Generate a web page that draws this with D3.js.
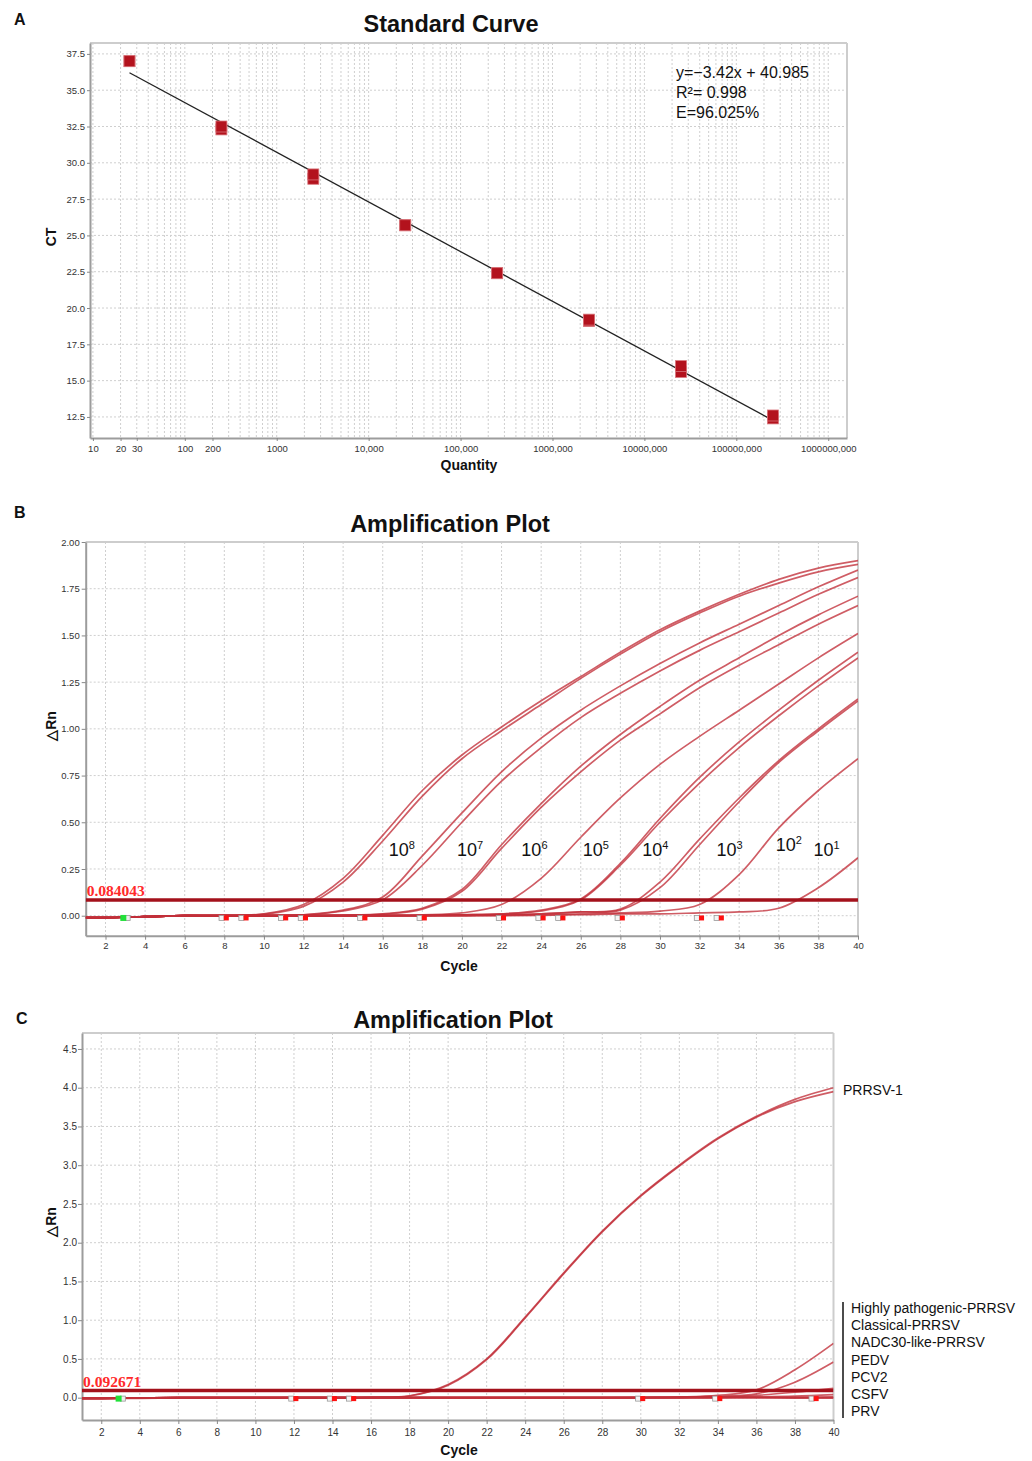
<!DOCTYPE html>
<html>
<head>
<meta charset="UTF-8">
<title>Standard curve and amplification plots</title>
<script src="https://d3js.org/d3.v7.min.js"></script>
<style>
  body { margin: 0; background: #fff; }
  svg { display: block; font-family: "Liberation Sans", Arial, Helvetica, sans-serif; }
  .grid line { stroke: #cfcfcf; stroke-width: 1; stroke-dasharray: 2,2; }
  .frame { stroke: #cdcdcd; stroke-width: 2; fill: none; }
  .curve { fill: none; stroke: #c22f3a; stroke-width: 1.7; stroke-opacity: 0.78; }
  .thresh { stroke: #a3111b; stroke-width: 3.5; }
  .ttl { font-weight: bold; font-size: 23.5px; fill: #111; text-anchor: middle; }
  .lbl { font-weight: bold; font-size: 14px; fill: #111; text-anchor: middle; }
  .letter { font-weight: bold; font-size: 16px; fill: #111; }
</style>
</head>
<body>
<svg id="fig" width="1032" height="1461"></svg>
<script>
// ===== DATA: panel A, standard curve =====
var qty = [25, 250, 2500, 25000, 250000, 2500000, 25000000, 250000000];
var ctRep1 = [37.0, 32.3, 28.9, 25.7, 22.4, 19.1, 15.6, 12.4];
var ctRep2 = [37.0, 32.5, 29.2, 25.7, 22.4, 19.2, 16.0, 12.6];
var qtyTicks = [10, 20, 30, 100, 200, 1000, 1e4, 1e5, 1e6, 1e7, 1e8, 1e9];
var qtyTickLabels = ["10", "20", "30", "100", "200", "1000", "10,000", "100,000",
                     "1000,000", "10000,000", "100000,000", "1000000,000"];
var ctTicks = [12.5, 15, 17.5, 20, 22.5, 25, 27.5, 30, 32.5, 35, 37.5];
var fitSlope = -3.42, fitIntercept = 40.985;
var fitText = ["y=\u22123.42x + 40.985", "R\u00b2= 0.998", "E=96.025%"];

// ===== DATA: amplification curves (delta Rn at these cycles) =====
var cycles = [1, 2, 4, 6, 8, 10, 12, 14, 16, 18, 20, 22, 24, 26, 28, 30, 32, 34, 36, 38, 40];
var cycleTicks = [2, 4, 6, 8, 10, 12, 14, 16, 18, 20, 22, 24, 26, 28, 30, 32, 34, 36, 38, 40];

// panel B, tenfold dilutions
var rn1e8a = [-0.01,-0.01,-0.005,0,0,0.01,0.06,0.20,0.43,0.67,0.86,1.01,1.15,1.28,1.41,1.53,1.63,1.72,1.80,1.86,1.90];
var rn1e8b = [-0.01,-0.01,-0.005,0,0,0.008,0.05,0.18,0.40,0.64,0.84,0.99,1.13,1.27,1.40,1.52,1.62,1.71,1.78,1.84,1.88];
var rn1e7a = [-0.01,-0.01,-0.005,0,0,0,0.005,0.03,0.10,0.32,0.55,0.77,0.95,1.10,1.23,1.35,1.46,1.56,1.66,1.76,1.85];
var rn1e7b = [-0.01,-0.01,-0.005,0,0,0,0.004,0.025,0.085,0.27,0.50,0.72,0.90,1.06,1.19,1.31,1.42,1.52,1.62,1.72,1.81];
var rn1e6a = [-0.01,-0.01,-0.005,0,0,0,0,0.002,0.01,0.04,0.14,0.38,0.60,0.80,0.97,1.12,1.26,1.38,1.50,1.61,1.71];
var rn1e6b = [-0.01,-0.01,-0.005,0,0,0,0,0.002,0.008,0.035,0.13,0.36,0.58,0.77,0.94,1.08,1.22,1.34,1.45,1.56,1.66];
var rn1e5  = [-0.01,-0.01,-0.005,0,0,0,0,0,0.002,0.005,0.015,0.06,0.20,0.42,0.63,0.81,0.96,1.10,1.24,1.38,1.51];
var rn1e4a = [-0.01,-0.01,-0.005,0,0,0,0,0,0,0.002,0.005,0.01,0.03,0.09,0.28,0.52,0.74,0.93,1.10,1.26,1.41];
var rn1e4b = [-0.01,-0.01,-0.005,0,0,0,0,0,0,0.002,0.005,0.01,0.025,0.085,0.27,0.50,0.71,0.90,1.07,1.23,1.38];
var rn1e3a = [-0.01,-0.01,-0.005,0,0,0,0,0,0,0,0.002,0.005,0.01,0.02,0.035,0.18,0.41,0.63,0.83,1.00,1.16];
var rn1e3b = [-0.01,-0.01,-0.005,0,0,0,0,0,0,0,0.002,0.005,0.01,0.02,0.03,0.15,0.38,0.61,0.82,0.99,1.15];
var rn1e2  = [-0.01,-0.01,-0.005,0,0,0,0,0,0,0,0,0.002,0.005,0.01,0.015,0.025,0.06,0.22,0.47,0.67,0.84];
var rn1e1  = [-0.01,-0.01,-0.005,0,0,0,0,0,0,0,0,0,0.002,0.005,0.01,0.01,0.015,0.02,0.04,0.15,0.31];
var dilutionExp = ["8", "7", "6", "5", "4", "3", "2", "1"];
var dilutionLabelCycle = [16.3, 19.75, 23.0, 26.1, 29.1, 32.85, 35.85, 37.75];
var dilutionLabelRn = [0.32, 0.32, 0.32, 0.32, 0.32, 0.32, 0.345, 0.32];
var thresholdB = 0.084043;
var baselineEndB = [8.1, 9.1, 11.1, 12.1, 15.1, 18.1, 22.1, 24.1, 25.1, 28.1, 32.1, 33.1];

// panel C, specificity
var rnPRRSV1a = [-0.01,-0.01,-0.005,0,0,0,0,0,0.005,0.025,0.17,0.50,1.04,1.61,2.15,2.61,3.00,3.35,3.63,3.85,4.00];
var rnPRRSV1b = [-0.01,-0.01,-0.005,0,0,0,0,0,0.004,0.022,0.16,0.49,1.03,1.60,2.14,2.60,2.99,3.34,3.62,3.82,3.95];
var rnHP      = [-0.01,-0.01,-0.005,0,0,0,0,0,0,0,0,0,0,0,0,0.005,0.01,0.03,0.10,0.36,0.70];
var rnClass   = [-0.01,-0.01,-0.005,0,0,0,0,0,0,0,0,0,0,0,0,0,0.005,0.02,0.05,0.20,0.46];
var rnNADC30  = [-0.01,-0.01,-0.005,0,0,0,0,0,0,0,0,0,0,0,0,0,0.005,0.01,0.03,0.07,0.12];
var rnPEDV    = [-0.01,-0.01,-0.005,0,0,0,0,0,0,0,0,0,0,0,0,0,0,0.005,0.01,0.02,0.04];
var rnPCV2    = [-0.01,-0.01,-0.005,0,0,0,0,0,0,0,0,0,0,0,0,0,0,0,0.005,0.005,0.01];
var rnCSFV    = [-0.01,-0.01,-0.005,0,0,0,0,0,0,0,0,0,0,0,0,0,0,0,0,0,0];
var rnPRV     = [-0.01,-0.01,-0.01,-0.005,-0.005,-0.005,0,0,0,0,0,0,0,0,0,0,0,0,0,-0.005,-0.005];
var pathogenNames = ["Highly pathogenic-PRRSV", "Classical-PRRSV", "NADC30-like-PRRSV",
                     "PEDV", "PCV2", "CSFV", "PRV"];
var thresholdC = 0.092671;
var baselineEndC = [12.1, 14.1, 15.1, 30.1, 34.1, 39.1];
var baselineStart = 2.9;

var svg = d3.select("#fig");
var FONT = "'Liberation Sans', Arial, Helvetica, sans-serif";

function styleAxis(sel, size) {
  sel.attr("font-family", FONT);
  sel.select(".domain").attr("stroke", "#9c9c9c").attr("stroke-width", 2);
  sel.selectAll(".tick line").attr("stroke", "#888");
  sel.selectAll(".tick text").attr("fill", "#333").attr("font-size", size);
}

function frame(g, l, r, t, b) {
  g.append("line").attr("class", "frame").attr("x1", l).attr("x2", r).attr("y1", t).attr("y2", t);
  g.append("line").attr("class", "frame").attr("x1", r).attr("x2", r).attr("y1", t).attr("y2", b);
}

//==== PANEL A ===========================================================
var A = { left: 90, right: 847, top: 43, bottom: 438 };
var xA = d3.scaleLog().domain([9.3, 1.6e9]).range([A.left, A.right]);
var yA = d3.scaleLinear().domain([11.05, 38.25]).range([A.bottom, A.top]);
var gA = svg.append("g");

gA.append("g").attr("class", "grid").selectAll("line").data(xA.ticks(50)).join("line")
  .attr("x1", d => xA(d)).attr("x2", d => xA(d)).attr("y1", A.top).attr("y2", A.bottom);
gA.append("g").attr("class", "grid").selectAll("line").data(ctTicks).join("line")
  .attr("x1", A.left).attr("x2", A.right).attr("y1", d => yA(d)).attr("y2", d => yA(d));
frame(gA, A.left, A.right, A.top, A.bottom);

gA.append("g").attr("transform", "translate(0," + A.bottom + ")")
  .call(d3.axisBottom(xA).tickValues(qtyTicks).tickFormat((d, i) => qtyTickLabels[i])
        .tickSize(3).tickPadding(4).tickSizeOuter(0))
  .call(s => styleAxis(s, 9.5));
gA.append("g").attr("transform", "translate(" + A.left + ",0)")
  .call(d3.axisLeft(yA).tickValues(ctTicks).tickFormat(d3.format(".1f"))
        .tickSize(3).tickPadding(2).tickSizeOuter(0))
  .call(s => styleAxis(s, 9.5));

// regression line
var q0 = qty[0], q1 = qty[qty.length - 1];
gA.append("line")
  .attr("x1", xA(q0)).attr("y1", yA(fitSlope * Math.log10(q0) + fitIntercept))
  .attr("x2", xA(q1)).attr("y2", yA(fitSlope * Math.log10(q1) + fitIntercept))
  .attr("stroke", "#222").attr("stroke-width", 1.3);

[ctRep1, ctRep2].forEach(function(rep) {
  gA.append("g").selectAll("rect").data(rep).join("rect")
    .attr("x", (d, i) => xA(qty[i]) - 5.5).attr("y", d => yA(d) - 5.5)
    .attr("width", 11).attr("height", 11)
    .attr("fill", "#b3121d").attr("stroke", "#d9767c").attr("stroke-width", 0.8);
});

gA.selectAll(".eq").data(fitText).join("text").attr("class", "eq")
  .attr("x", 676).attr("y", (d, i) => 78 + i * 20)
  .attr("font-size", 16).attr("fill", "#111").text(d => d);

svg.append("text").attr("class", "letter").attr("x", 14).attr("y", 25).text("A");
svg.append("text").attr("class", "ttl").attr("x", 451).attr("y", 32).text("Standard Curve");
svg.append("text").attr("class", "lbl").attr("x", 469).attr("y", 470).text("Quantity");
svg.append("text").attr("class", "lbl").attr("transform", "translate(56,237) rotate(-90)").text("CT");

//==== AMPLIFICATION PANELS ==============================================
function ampPanel(o) {
  var g = svg.append("g");
  var x = d3.scaleLinear().domain([1, 40]).range([o.left, o.right]);
  var y = d3.scaleLinear().domain(o.yDomain).range([o.bottom, o.top]);

  g.append("g").attr("class", "grid").selectAll("line").data(cycleTicks).join("line")
    .attr("x1", d => x(d)).attr("x2", d => x(d)).attr("y1", o.top).attr("y2", o.bottom);
  g.append("g").attr("class", "grid").selectAll("line").data(o.yTicks).join("line")
    .attr("x1", o.left).attr("x2", o.right).attr("y1", d => y(d)).attr("y2", d => y(d));
  frame(g, o.left, o.right, o.top, o.bottom);

  g.append("g").attr("transform", "translate(0," + o.bottom + ")")
    .call(d3.axisBottom(x).tickValues(cycleTicks).tickSize(4).tickPadding(o.xPad).tickSizeOuter(0))
    .call(s => styleAxis(s, o.fs));
  g.append("g").attr("transform", "translate(" + o.left + ",0)")
    .call(d3.axisLeft(y).tickValues(o.yTicks).tickFormat(d3.format(o.yFmt))
          .tickSize(4).tickPadding(o.yPad).tickSizeOuter(0))
    .call(s => styleAxis(s, o.fs));

  var clipId = "clip" + o.id;
  svg.append("clipPath").attr("id", clipId).append("rect")
    .attr("x", o.left).attr("y", o.top).attr("width", o.right - o.left).attr("height", o.bottom - o.top);
  var plot = g.append("g").attr("clip-path", "url(#" + clipId + ")");

  var line = d3.line().x((d, i) => x(cycles[i])).y(d => y(d)).curve(d3.curveCatmullRom.alpha(0.5));
  plot.selectAll(".curve").data(o.series).join("path").attr("class", "curve").attr("d", line);

  plot.append("line").attr("class", "thresh")
    .attr("x1", o.left).attr("x2", o.right).attr("y1", y(o.threshold)).attr("y2", y(o.threshold));
  g.append("text").attr("x", o.left + 1).attr("y", y(o.threshold) - 4)
    .attr("font-family", "'Liberation Serif', 'Times New Roman', serif").attr("font-weight", "bold")
    .attr("font-size", 15.5).attr("fill", "#ff2a2a").text(o.threshold.toFixed(6));

  // baseline start / end markers
  var my = y(-0.012);
  g.selectAll(".mk0").data(o.ends).join("rect").attr("class", "mk0")
    .attr("x", d => x(d - 0.24) - 2.5).attr("y", my - 2.5).attr("width", 5).attr("height", 5)
    .attr("fill", "#f4f4f4").attr("stroke", "#999").attr("stroke-width", 0.8);
  g.selectAll(".mk1").data(o.ends).join("rect").attr("class", "mk1")
    .attr("x", d => x(d) - 2.5).attr("y", my - 2.5).attr("width", 5).attr("height", 5)
    .attr("fill", "#ff1010");
  g.append("rect").attr("x", x(baselineStart + 0.22) - 2.5).attr("y", my - 2.5)
    .attr("width", 5).attr("height", 5).attr("fill", "#eee").attr("stroke", "#999").attr("stroke-width", 0.8);
  g.append("rect").attr("x", x(baselineStart) - 3).attr("y", my - 3)
    .attr("width", 6).attr("height", 6).attr("fill", "#22e03a");

  svg.append("text").attr("class", "lbl").attr("x", 459).attr("y", o.bottom + 35).text("Cycle");
  svg.append("text").attr("class", "lbl").attr("transform", "translate(56," + o.rnY + ") rotate(-90)")
    .text("\u25b3Rn");
  return { g: g, x: x, y: y };
}

//==== PANEL B ===========================================================
var pB = ampPanel({
  id: "B", left: 85.7, right: 858, top: 542, bottom: 935.7,
  yDomain: [-0.107, 2.0], yTicks: [0, 0.25, 0.5, 0.75, 1, 1.25, 1.5, 1.75, 2], yFmt: ".2f",
  fs: 9.5, xPad: 3, yPad: 2, rnY: 726,
  series: [rn1e8a, rn1e8b, rn1e7a, rn1e7b, rn1e6a, rn1e6b, rn1e5, rn1e4a, rn1e4b,
           rn1e3a, rn1e3b, rn1e2, rn1e1],
  threshold: thresholdB, ends: baselineEndB
});
dilutionExp.forEach(function(e, i) {
  var t = pB.g.append("text").attr("x", pB.x(dilutionLabelCycle[i])).attr("y", pB.y(dilutionLabelRn[i]))
    .attr("font-size", 18).attr("fill", "#111");
  t.append("tspan").text("10");
  t.append("tspan").attr("dy", -7).attr("font-size", 11).text(e);
});
svg.append("text").attr("class", "letter").attr("x", 14).attr("y", 518).text("B");
svg.append("text").attr("class", "ttl").attr("x", 450).attr("y", 532).text("Amplification Plot");

//==== PANEL C ===========================================================
var pC = ampPanel({
  id: "C", left: 82, right: 833.5, top: 1033, bottom: 1420,
  yDomain: [-0.288, 4.706], yTicks: [0, 0.5, 1, 1.5, 2, 2.5, 3, 3.5, 4, 4.5], yFmt: ".1f",
  fs: 10, xPad: 5, yPad: 1, rnY: 1222,
  series: [rnPRRSV1a, rnPRRSV1b, rnHP, rnClass, rnNADC30, rnPEDV, rnPCV2, rnCSFV, rnPRV],
  threshold: thresholdC, ends: baselineEndC
});
svg.append("text").attr("x", 843).attr("y", 1095).attr("font-size", 14).attr("fill", "#111").text("PRRSV-1");
svg.append("line").attr("x1", 843).attr("x2", 843).attr("y1", 1302).attr("y2", 1418)
  .attr("stroke", "#111").attr("stroke-width", 1.5);
svg.selectAll(".leg").data(pathogenNames).join("text").attr("class", "leg")
  .attr("x", 851).attr("y", (d, i) => 1313 + i * 17.2)
  .attr("font-size", 14).attr("fill", "#111").text(d => d);
svg.append("text").attr("class", "letter").attr("x", 16).attr("y", 1024).text("C");
svg.append("text").attr("class", "ttl").attr("x", 453).attr("y", 1028).text("Amplification Plot");
</script>
</body>
</html>
